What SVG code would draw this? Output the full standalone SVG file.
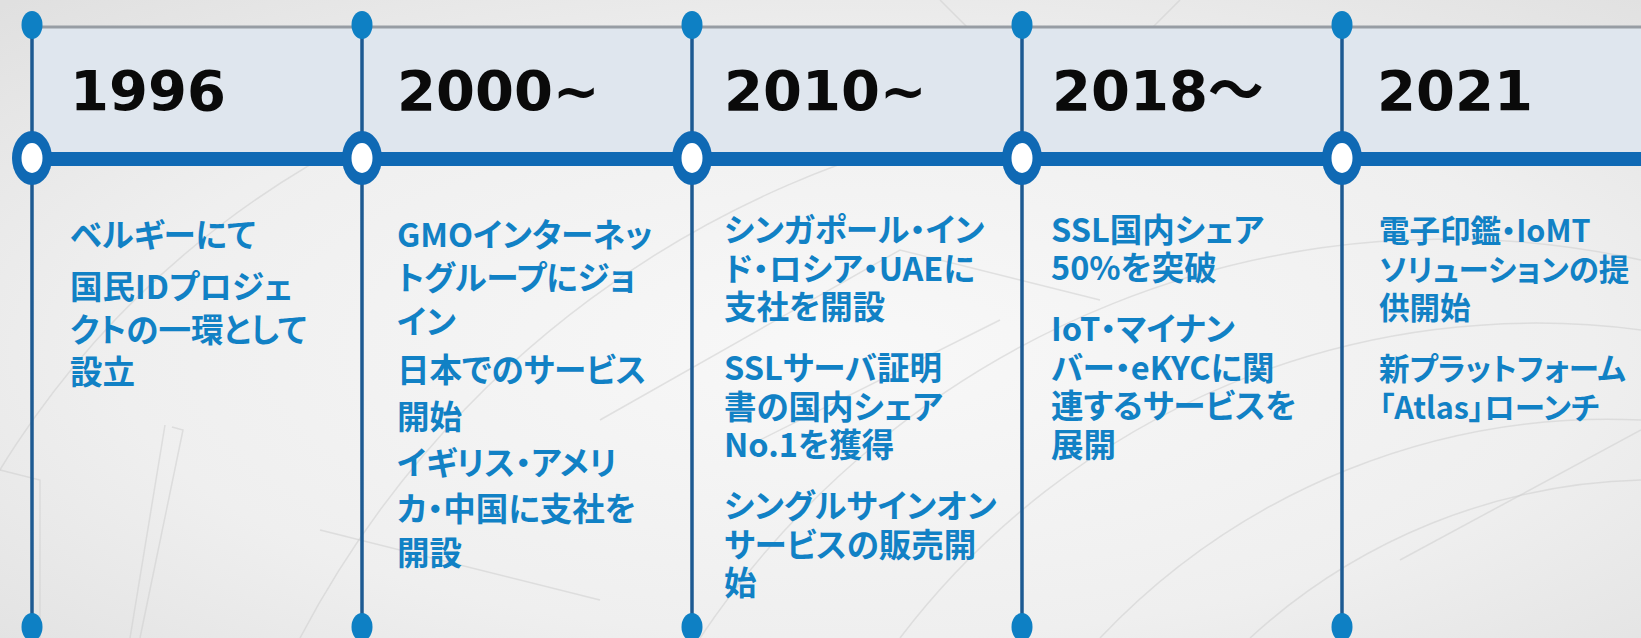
<svg xmlns="http://www.w3.org/2000/svg" width="1641" height="638" viewBox="0 0 1641 638">
<defs>
<radialGradient id="bg" cx="0.52" cy="0.55" r="0.75">
<stop offset="0" stop-color="#f8f8f8"/>
<stop offset="0.6" stop-color="#efefef"/>
<stop offset="1" stop-color="#e0e0e0"/>
</radialGradient>
<style>
.yr{font-family:"DejaVu Sans","Noto Sans CJK JP",sans-serif;font-weight:bold;font-size:56px;fill:#0a0a0a}
.tx{font-family:"Noto Sans CJK JP",sans-serif;font-weight:bold;font-size:32.5px;fill:#1181c5;font-feature-settings:"palt"}
.tx5{font-size:30.5px}
.vl{stroke:#1d5a92;stroke-width:3.5}
.dot{fill:#0e80c4}
.ring{fill:#0f69b4}
.hole{fill:#ffffff}
.deco{fill:none;stroke:#cdcdcd;stroke-width:1.5;opacity:0.55}
</style>
</defs>
<rect x="0" y="0" width="1641" height="638" fill="url(#bg)"/>
<g id="background-lines">
<path class="deco" d="M172 427 L183 430 L140 638"/>
<path class="deco" d="M165 425 L130 638"/>
<path class="deco" d="M0 470 L40 480 L40 638"/>
<path class="deco" d="M-100 700 A 900 900 0 0 1 760 40"/>
<path class="deco" d="M300 638 A 1000 1000 0 0 1 1000 120"/>
<path class="deco" d="M700 638 A 900 900 0 0 1 1641 260"/>
<path class="deco" d="M900 638 A 800 800 0 0 1 1641 330"/>
<path class="deco" d="M1100 638 A 700 700 0 0 1 1641 420"/>
<path class="deco" d="M1250 638 A 600 600 0 0 1 1641 480"/>
<path class="deco" d="M600 420 L900 250 L1100 300"/>
<path class="deco" d="M760 440 L1000 320"/>
<path class="deco" d="M1400 560 L1641 430"/>
<path class="deco" d="M320 530 L600 600"/>
<path class="deco" d="M940 0 L1000 60"/>
<path class="deco" d="M1180 0 L1120 60"/>
</g>
<g id="connectors">
<rect x="32" y="28" width="1609" height="124" fill="#dfe6ee"/>
<line x1="32" y1="27" x2="1641" y2="27" stroke="#979da4" stroke-width="3"/>
<rect x="32" y="152" width="1609" height="14" fill="#0f69b4"/>
<line class="vl" x1="32" y1="25" x2="32" y2="627"/>
<line class="vl" x1="362" y1="25" x2="362" y2="627"/>
<line class="vl" x1="692" y1="25" x2="692" y2="627"/>
<line class="vl" x1="1022" y1="25" x2="1022" y2="627"/>
<line class="vl" x1="1342" y1="25" x2="1342" y2="627"/>
</g>
<g id="node-1996">
<ellipse class="dot" cx="32" cy="25" rx="10.5" ry="14"/>
<ellipse class="dot" cx="32" cy="627" rx="10.5" ry="14"/>
<ellipse class="ring" cx="32" cy="158" rx="20" ry="27"/>
<ellipse class="hole" cx="32" cy="158" rx="10.5" ry="15"/>
<text class="yr" x="70" y="110">1996</text>
<text class="tx"><tspan x="70" y="247">ベルギーにて</tspan><tspan x="70" y="299">国民IDプロジェ</tspan><tspan x="70" y="342">クトの一環として</tspan><tspan x="70" y="384">設立</tspan></text>
</g>
<g id="node-2000">
<ellipse class="dot" cx="362" cy="25" rx="10.5" ry="14"/>
<ellipse class="dot" cx="362" cy="627" rx="10.5" ry="14"/>
<ellipse class="ring" cx="362" cy="158" rx="20" ry="27"/>
<ellipse class="hole" cx="362" cy="158" rx="10.5" ry="15"/>
<text class="yr" x="397" y="110">2000~</text>
<text class="tx"><tspan x="397" y="247">GMOインターネッ</tspan><tspan x="397" y="290">トグループにジョ</tspan><tspan x="397" y="334">イン</tspan><tspan x="397" y="382">日本でのサービス</tspan><tspan x="397" y="429">開始</tspan><tspan x="397" y="475">イギリス・アメリ</tspan><tspan x="397" y="521">カ・中国に支社を</tspan><tspan x="397" y="565">開設</tspan></text>
</g>
<g id="node-2010">
<ellipse class="dot" cx="692" cy="25" rx="10.5" ry="14"/>
<ellipse class="dot" cx="692" cy="627" rx="10.5" ry="14"/>
<ellipse class="ring" cx="692" cy="158" rx="20" ry="27"/>
<ellipse class="hole" cx="692" cy="158" rx="10.5" ry="15"/>
<text class="yr" x="724" y="110">2010~</text>
<text class="tx"><tspan x="724" y="242">シンガポール・イン</tspan><tspan x="724" y="280.5">ド・ロシア・UAEに</tspan><tspan x="724" y="319">支社を開設</tspan><tspan x="724" y="380">SSLサーバ証明</tspan><tspan x="724" y="418.5">書の国内シェア</tspan><tspan x="724" y="457">No.1を獲得</tspan><tspan x="724" y="518">シングルサインオン</tspan><tspan x="724" y="556.5">サービスの販売開</tspan><tspan x="724" y="595">始</tspan></text>
</g>
<g id="node-2018">
<ellipse class="dot" cx="1022" cy="25" rx="10.5" ry="14"/>
<ellipse class="dot" cx="1022" cy="627" rx="10.5" ry="14"/>
<ellipse class="ring" cx="1022" cy="158" rx="20" ry="27"/>
<ellipse class="hole" cx="1022" cy="158" rx="10.5" ry="15"/>
<text class="yr" x="1052" y="110">2018～</text>
<text class="tx"><tspan x="1051" y="242">SSL国内シェア</tspan><tspan x="1051" y="280">50%を突破</tspan><tspan x="1051" y="341">IoT・マイナン</tspan><tspan x="1051" y="379.5">バー・eKYCに関</tspan><tspan x="1051" y="418">連するサービスを</tspan><tspan x="1051" y="456.5">展開</tspan></text>
</g>
<g id="node-2021">
<ellipse class="dot" cx="1342" cy="25" rx="10.5" ry="14"/>
<ellipse class="dot" cx="1342" cy="627" rx="10.5" ry="14"/>
<ellipse class="ring" cx="1342" cy="158" rx="20" ry="27"/>
<ellipse class="hole" cx="1342" cy="158" rx="10.5" ry="15"/>
<text class="yr" x="1377" y="110">2021</text>
<text class="tx tx5"><tspan x="1379" y="242">電子印鑑・IoMT</tspan><tspan x="1379" y="280.5">ソリューションの提</tspan><tspan x="1379" y="319">供開始</tspan><tspan x="1379" y="380">新プラットフォーム</tspan><tspan x="1379" y="418.5">「Atlas」ローンチ</tspan></text>
</g>
</svg>
